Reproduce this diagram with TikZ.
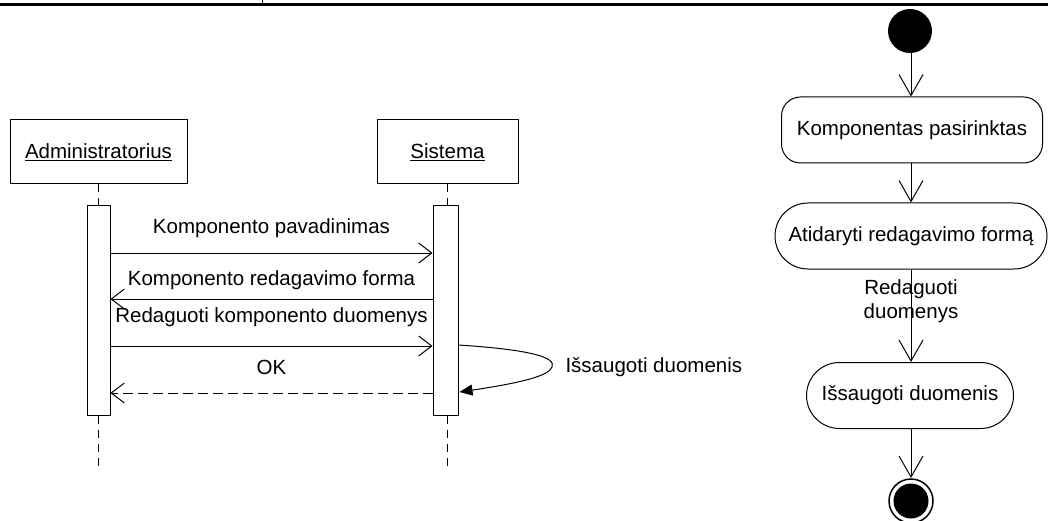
\documentclass[tikz,border=0pt]{standalone}
\usepackage{fontspec}
\setmainfont{Liberation Sans}
\usetikzlibrary{arrows.meta,calc}
\begin{document}
\begin{tikzpicture}[x=1pt,y=-1pt,line width=1pt,
  every node/.style={font=\fontsize{20.5}{24}\selectfont, inner sep=0pt},
  actor/.style={draw, minimum width=#1, minimum height=64pt},
  actbar/.style={draw, fill=white, minimum width=23pt, minimum height=209pt},
  lifeline/.style={dash pattern=on 8pt off 6pt},
  msg/.style={-{Straight Barb[length=13pt,width=20pt,line width=1pt]}},
  reply/.style={msg, dash pattern=on 10pt off 5pt},
  selfmsg/.style={-{Triangle[length=13pt,width=11pt]}},
  flow/.style={-{Straight Barb[length=21pt,width=24pt,line width=1pt]}},
  state/.style={draw, rounded corners=#1, minimum height=66pt},
]
\useasboundingbox (0,0) rectangle (1048,521);

% header rule of the page
\draw[line width=3pt] (0,5) -- (1048,5);
\draw[line width=1.2pt] (262.5,0) -- (262.5,5);

% ---------- sequence diagram ----------
\node[actor=177pt] (admin) at (98.5,152) {\underline{Administratorius}};
\node[actor=141pt] (sys) at (447.5,152) {\underline{Sistema}};

\node[actbar] (aact) at (98.5,310.5) {};
\node[actbar, minimum width=25pt] (sact) at (445.5,310.5) {};

\draw[lifeline] (admin.south) -- (aact.north);
\draw[lifeline] (aact.south) -- ++(0,51);
\draw[lifeline] (sys.south) -- (sys.south |- sact.north);
\draw[lifeline] (sys.south |- sact.south) -- ++(0,51);

\draw[msg] (aact.east |- 0,253) -- node[above=15pt] {Komponento pavadinimas} (sact.west |- 0,253);
\draw[msg] (sact.west |- 0,299) -- node[above=9pt] {Komponento redagavimo forma} (aact.east |- 0,299);
\draw[msg] (aact.east |- 0,346) -- node[above=19pt] {Redaguoti komponento duomenys} (sact.west |- 0,346);
\draw[reply] (sact.west |- 0,393) -- node[above=18pt] {OK} (aact.east |- 0,393);

\coordinate (selftip) at (552,367);
\draw[selfmsg] (sact.east |- 0,345) .. controls (535,350) and (556,358) .. (selftip)
  .. controls (549,376) and (520,383) .. ($(sact.east |- 0,392)+(1,0)$);
\node[anchor=west] (selflbl) at (565,367) {Išsaugoti duomenis};

% ---------- activity diagram ----------
\fill (910,31) circle (22pt) coordinate (initc);
\coordinate (init) at (911,53);
\node[state=19pt, minimum width=261pt] (a1) at (912,130) {Komponentas pasirinktas};
\node[state=33pt, minimum width=272pt] (a2) at (911,236) {Atidaryti redagavimo formą};
\node[state=33pt, minimum width=207pt] (a3) at (910,395.5) {Išsaugoti duomenis};
\coordinate (fin) at (911,478);

\draw[flow] (init) -- (init |- a1.north);
\draw[flow] (a1.south -| init) -- (init |- a2.north);
\draw[flow] (a2.south -| init) -- (init |- a3.north);
\node[align=center] (guard) at (911,301) {Redaguoti\\duomenys};
\draw[flow] (a3.south -| init) -- (fin);

\draw[line width=1.5pt] (911,501) circle (22pt);
\fill (911,501) circle (17.5pt);
\end{tikzpicture}
\end{document}
